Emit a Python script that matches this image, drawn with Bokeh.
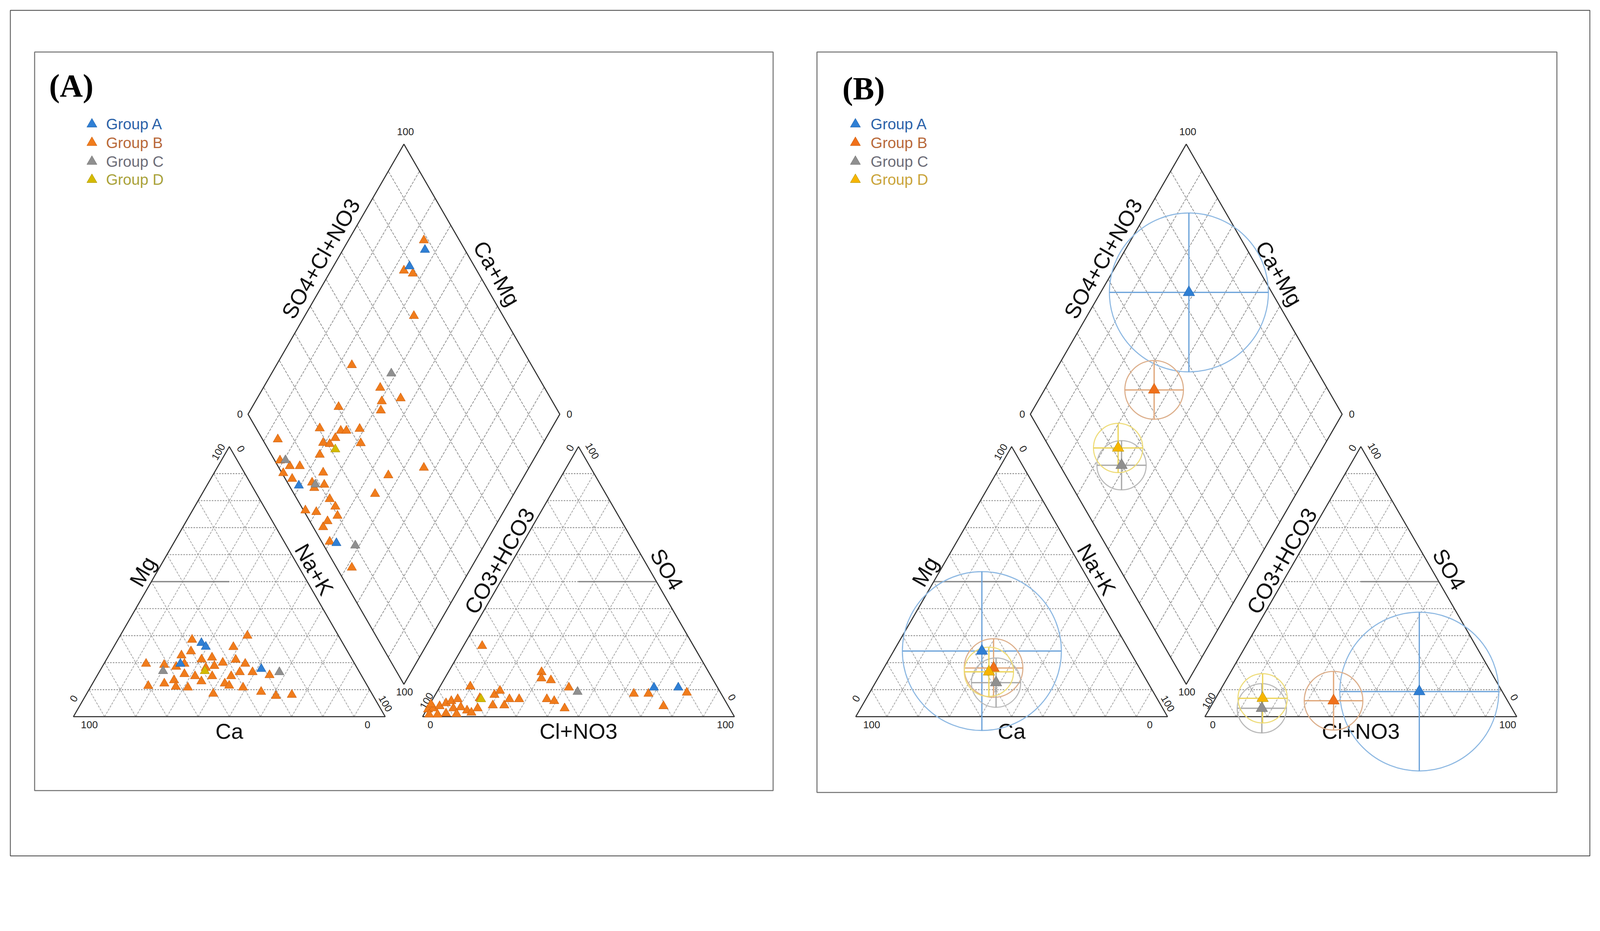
import math
from bokeh.plotting import figure
from bokeh.models import Range1d
from bokeh.core.properties import value
from bokeh.embed import file_html
from bokeh.resources import INLINE

# ---------------------------------------------------------------- data
groups = ["Group A", "Group B", "Group C", "Group D"]

# Panel (A): individual samples (% of meq/L)
# cation triangle rows: (Ca, Mg, Na+K)
samp_cation_A = [(45.3, 27.3, 27.4), (44.6, 25.9, 29.5), (55.9, 19.6, 24.5), (30.9, 17.7, 51.4)]
samp_cation_B = [
    (66.9, 19.6, 13.5), (70.3, 11.4, 18.3), (61.3, 19.2, 19.5), (64.7, 12.3, 23.0),
    (61.0, 13.5, 25.5), (57.8, 18.5, 23.7), (54.0, 22.7, 23.3), (56.5, 15.8, 27.7),
    (57.9, 10.8, 31.3), (47.7, 28.5, 23.8), (50.2, 24.2, 25.6), (48.3, 21.2, 30.5),
    (52.4, 13.1, 34.5), (48.5, 18.1, 33.4), (44.6, 21.9, 33.5), (48.0, 15.0, 37.0),
    (50.9, 8.5, 40.6), (45.4, 18.8, 35.8), (42.1, 20.0, 37.9), (45.3, 12.3, 42.4),
    (44.3, 11.5, 44.2), (35.8, 25.8, 38.4), (37.4, 21.1, 41.5), (38.4, 16.5, 45.1),
    (40.2, 10.8, 49.0), (35.1, 19.6, 45.3), (29.2, 30.0, 40.8), (34.3, 16.5, 49.2),
    (35.2, 9.2, 55.6), (29.4, 15.4, 55.2), (31.2, 7.7, 61.1), (25.9, 8.1, 66.0),
    (54.6, 19.6, 25.8), (53.5, 15.0, 31.5), (61.6, 11.1, 27.3), (41.9, 15.0, 43.1),
]
samp_cation_C = [(62.8, 16.9, 20.3), (25.7, 16.5, 57.8)]
samp_cation_D = [(49.4, 16.9, 33.7)]

# anion triangle rows: (CO3+HCO3, SO4, Cl+NO3)
samp_anion_A = [(20.4, 10.8, 68.8), (12.6, 10.8, 76.6)]
samp_anion_B = [
    (67.8, 26.2, 6.0), (79.1, 11.2, 9.7), (78.2, 6.9, 14.9), (80.8, 3.1, 16.1),
    (72.9, 8.1, 19.0), (70.4, 9.6, 20.0), (75.4, 4.2, 20.4), (71.7, 4.2, 24.1),
    (68.9, 6.5, 24.6), (65.8, 6.5, 27.7), (53.6, 16.5, 29.9), (54.8, 14.2, 31.0),
    (52.1, 13.5, 34.4), (56.9, 6.5, 36.6), (54.9, 5.8, 39.3), (52.9, 3.1, 44.0),
    (47.7, 10.8, 41.5), (28.0, 8.5, 63.5), (23.3, 8.5, 68.2), (20.8, 3.9, 75.3),
    (10.8, 8.9, 80.3),
    (96.9, 2.7, 0.4), (95.0, 3.1, 1.9), (92.6, 3.9, 3.5), (90.0, 5.0, 5.0),
    (87.9, 5.8, 6.3), (85.5, 6.5, 8.0), (88.6, 3.1, 8.3), (86.0, 3.5, 10.5),
    (84.6, 2.3, 13.1), (83.6, 1.5, 14.9), (97.5, 0.8, 1.7), (94.8, 0.8, 4.4),
    (91.9, 1.2, 6.9), (88.6, 1.0, 10.4), (95.0, 4.6, 0.4),
]
samp_anion_C = [(45.7, 9.2, 45.1)]
samp_anion_D = [(78.0, 6.5, 15.5)]

# diamond rows: (Ca+Mg, SO4+Cl+NO3)
samp_diamond_A = [(73.7, 87.2), (75.6, 79.2), (70.5, 3.1), (47.8, 4.5)]
samp_diamond_B = [
    (75.8, 88.6), (76.6, 76.6), (73.2, 78.9), (65.0, 71.4), (75.8, 42.4),
    (62.5, 47.3), (54.0, 51.9), (59.5, 45.3), (58.1, 43.3), (72.3, 30.4),
    (74.4, 20.4), (85.8, 4.9), (67.2, 26.7), (65.4, 28.5), (61.5, 33.1),
    (70.6, 18.8), (68.3, 20.7), (58.5, 30.8), (67.6, 23.6), (69.5, 15.5),
    (81.2, 1.7), (77.0, 3.8), (73.8, 7.0), (77.8, 0.4), (73.9, 2.2),
    (65.1, 13.3), (62.5, 11.4), (66.8, 7.9), (65.1, 7.6), (58.1, 10.5),
    (54.9, 10.9), (52.5, 9.9), (63.8, 0.6), (60.0, 3.8), (55.0, 3.2),
    (54.7, 5.7), (50.2, 2.6), (43.7, 33.7), (44.5, 26.0), (33.7, 46.5),
    (38.3, 4.9),
]
samp_diamond_C = [(61.6, 53.5), (79.5, 3.5), (65.4, 8.6), (41.3, 10.1)]
samp_diamond_D = [(65.5, 21.5)]

# Panel (B): group means (% of meq/L) and spread (% of axis length)
mean_Ca = [47.4, 46.8, 48.7, 49.0]
mean_Mg = [24.3, 18.0, 12.6, 16.6]
mean_NaK = [28.3, 35.2, 38.7, 34.4]
mean_CO3HCO3 = [26.6, 55.8, 80.2, 78.1]
mean_SO4 = [9.3, 5.9, 3.1, 6.8]
mean_ClNO3 = [64.1, 38.3, 16.7, 15.1]
mean_spread = [25.5, 9.4, 7.9, 7.9]

# ---------------------------------------------------------------- geometry / styles
K = 1.0775                     # screenshot px per figure px
SQ = math.sqrt(3) / 2
GAP = 0.12
SCALE = 860.0 / K              # figure px per unit side
FIG_W, FIG_H = 4096, 2208
X0 = -(202 / K) / SCALE
Y1 = (1976 / K) / SCALE
PANEL_B_DX = 2158 / 860.0


def fs(v):
    return "%.1fpx" % (v / K)


def lw(v):
    return v / K


SANS = value("Liberation Sans")
SERIF = value("Liberation Serif")

COL_PT = ["#2f7fd4", "#f07c1c", "#8f8f8f", "#d4ba00"]
COL_PT_B = ["#2f7fd4", "#f0701a", "#8f8f8f", "#f7b500"]
COL_EDGE = ["#1d5fa8", "#c95a08", "#6f6f6f", "#a99000"]
COL_TXT_A = ["#2c62a8", "#b8693a", "#6d6d78", "#a9a23a"]
COL_TXT_B = ["#2c62a8", "#b8693a", "#6d6d78", "#c9a43a"]
COL_RING = ["#8db8e2", "#dcae8a", "#b9b9b9", "#eedc7a"]
COL_CROSS = ["#6ea4da", "#e0a77a", "#a8a8a8", "#ecd45a"]


def px(x):
    return X0 + (x / K) / SCALE


def py(y):
    return Y1 - (y / K) / SCALE


def cation_xy(rows, ox):
    xs, ys = [], []
    for ca, mg, nak in rows:
        t = ca + mg + nak
        m, n = mg / t, nak / t
        xs.append(ox + n + m / 2)
        ys.append(m * SQ)
    return xs, ys


def anion_xy(rows, ox):
    xs, ys = [], []
    for co3, so4, cl in rows:
        t = co3 + so4 + cl
        s, c = so4 / t, cl / t
        xs.append(ox + 1 + GAP + c + s / 2)
        ys.append(s * SQ)
    return xs, ys


def diamond_xy(rows, ox):
    bx, by = ox + 1 + GAP / 2, GAP * SQ
    xs, ys = [], []
    for camg, so4cl in rows:
        a, b = camg / 100, so4cl / 100
        xs.append(bx + 0.5 * (b - a))
        ys.append(by + SQ * (a + b))
    return xs, ys


p = figure(width=FIG_W, height=FIG_H, output_backend="svg", toolbar_location=None,
           x_range=Range1d(X0, X0 + FIG_W / SCALE), y_range=Range1d(Y1 - FIG_H / SCALE, Y1),
           x_axis_location=None, y_axis_location=None, min_border=0)
p.grid.visible = False
p.outline_line_color = None
p.background_fill_color = "white"

# outer frame and panel boxes
p.quad(left=[px(28)], right=[px(4385)], top=[py(28)], bottom=[py(2360)],
       fill_color=None, line_color="#3c3c3c", line_width=lw(2))
p.quad(left=[px(95), px(2253)], right=[px(2132), px(4294)], top=[py(143), py(143)],
       bottom=[py(2180), py(2185)], fill_color=None, line_color="#7a7a7a", line_width=lw(3))

ticks = [k / 10 for k in range(1, 10)]


def draw_piper(ox):
    ax = ox + 1 + GAP
    bx, by = ox + 1 + GAP / 2, GAP * SQ
    # horizontal grid lines of both triangles
    hx0, hx1, hy = [], [], []
    for o in (ox, ax):
        for k in ticks:
            hx0.append(o + k / 2); hx1.append(o + 1 - k / 2); hy.append(k * SQ)
    p.segment(x0=hx0, y0=hy, x1=hx1, y1=hy, line_color="#959595", line_width=lw(2.5), line_dash="4 3")
    # diagonal grid lines of both triangles
    dx0, dy0, dx1, dy1 = [], [], [], []
    for o in (ox, ax):
        for k in ticks:
            dx0.append(o + k); dy0.append(0); dx1.append(o + (1 + k) / 2); dy1.append((1 - k) * SQ)
            dx0.append(o + 1 - k); dy0.append(0); dx1.append(o + (1 - k) / 2); dy1.append((1 - k) * SQ)
    p.segment(x0=dx0, y0=dy0, x1=dx1, y1=dy1, line_color="#a4a4a4", line_width=lw(2), line_dash="6 3")
    # diamond grid
    gx0, gy0, gx1, gy1 = [], [], [], []
    for k in ticks:
        gx0.append(bx - k / 2); gy0.append(by + k * SQ); gx1.append(bx - k / 2 + 0.5); gy1.append(by + k * SQ + SQ)
        gx0.append(bx + k / 2); gy0.append(by + k * SQ); gx1.append(bx + k / 2 - 0.5); gy1.append(by + k * SQ + SQ)
    p.segment(x0=gx0, y0=gy0, x1=gx1, y1=gy1, line_color="#8e8e8e", line_width=lw(2), line_dash="7 3")
    # darker 50 % segments
    p.segment(x0=[ox + 0.25, ax + 0.5], y0=[0.5 * SQ, 0.5 * SQ], x1=[ox + 0.5, ax + 0.75], y1=[0.5 * SQ, 0.5 * SQ],
              line_color="#8a8a8a", line_width=lw(4))
    # outlines
    p.patches(xs=[[ox, ox + 1, ox + 0.5], [ax, ax + 1, ax + 0.5],
                  [bx, bx - 0.5, bx, bx + 0.5]],
              ys=[[0, 0, SQ], [0, 0, SQ], [by, by + SQ, by + 2 * SQ, by + SQ]],
              fill_color=None, line_color="#333333", line_width=lw(3))
    # axis titles
    p.text(x=[ox + 0.5, ax + 0.5], y=[-0.047, -0.047], text=["Ca", "Cl+NO3"],
           text_font=SANS, text_font_size=fs(60), text_align="center", text_baseline="middle",
           text_color="#111111")
    p.text(x=[ox + 0.223, ax + 0.247, ox + 0.794],
           y=[0.465, 0.499, 1.4686], text=["Mg", "CO3+HCO3", "SO4+Cl+NO3"], angle=math.pi / 3,
           text_font=SANS, text_font_size=fs(60), text_align="center", text_baseline="middle",
           text_color="#111111")
    p.text(x=[ox + 0.772, ax + 0.783, ox + 1.357],
           y=[0.472, 0.472, 1.421], text=["Na+K", "SO4", "Ca+Mg"], angle=-math.pi / 3,
           text_font=SANS, text_font_size=fs(60), text_align="center", text_baseline="middle",
           text_color="#111111")
    # tick labels (0 / 100)
    p.text(x=[ox + 0.051, ox + 0.943, ax + 0.025, ax + 0.971, bx + 0.005, bx - 0.526, bx + 0.531, bx + 0.002],
           y=[-0.026, -0.026, -0.026, -0.026, by + 2 * SQ + 0.04, by + SQ, by + SQ, by - 0.024],
           text=["100", "0", "0", "100", "100", "0", "0", "100"],
           text_font=SANS, text_font_size=fs(28), text_align="center", text_baseline="middle",
           text_color="#222222")
    p.text(x=[ox + 0.001, ox + 0.465, ax + 0.0126, ax + 0.473],
           y=[0.058, 0.849, 0.051, 0.862], text=["0", "100", "100", "0"], angle=math.pi / 3,
           text_font=SANS, text_font_size=fs(28), text_align="center", text_baseline="middle",
           text_color="#222222")
    p.text(x=[ox + 0.537, ox + 1.001, ax + 0.544, ax + 0.992],
           y=[0.859, 0.042, 0.852, 0.062], text=["0", "100", "100", "0"], angle=-math.pi / 3,
           text_font=SANS, text_font_size=fs(28), text_align="center", text_baseline="middle",
           text_color="#222222")


draw_piper(0.0)
draw_piper(PANEL_B_DX)

# ---------------- panel (A) samples
samp_cation = [samp_cation_A, samp_cation_B, samp_cation_C, samp_cation_D]
samp_anion = [samp_anion_A, samp_anion_B, samp_anion_C, samp_anion_D]
samp_diamond = [samp_diamond_A, samp_diamond_B, samp_diamond_C, samp_diamond_D]
for gi in [1, 0, 2, 3]:
    xs, ys = [], []
    for fx, rows in ((cation_xy, samp_cation[gi]), (anion_xy, samp_anion[gi]), (diamond_xy, samp_diamond[gi])):
        a, b = fx(rows, 0.0)
        xs += a; ys += b
    p.scatter(x=xs, y=ys, marker="triangle", size=26 / K, fill_color=COL_PT[gi],
              line_color=COL_EDGE[gi], line_width=lw(1))

# ---------------- panel (B) group means with spread circles
ox = PANEL_B_DX
cat_rows = list(zip(mean_Ca, mean_Mg, mean_NaK))
an_rows = list(zip(mean_CO3HCO3, mean_SO4, mean_ClNO3))
dia_rows = [(ca + mg, so4 + cl) for ca, mg, so4, cl in zip(mean_Ca, mean_Mg, mean_SO4, mean_ClNO3)]
cxs, cys = cation_xy(cat_rows, ox)
axs, ays = anion_xy(an_rows, ox)
dxs, dys = diamond_xy(dia_rows, ox)
for gi in range(4):
    r = mean_spread[gi] / 100
    xs = [cxs[gi], axs[gi], dxs[gi]]
    ys = [cys[gi], ays[gi], dys[gi]]
    p.circle(x=xs, y=ys, radius=r, fill_color=None, line_color=COL_RING[gi], line_width=lw(3))
    p.segment(x0=[x - r for x in xs], y0=ys, x1=[x + r for x in xs], y1=ys,
              line_color=COL_CROSS[gi], line_width=lw(3.5))
    p.segment(x0=xs, y0=[y - r for y in ys], x1=xs, y1=[y + r for y in ys],
              line_color=COL_CROSS[gi], line_width=lw(3.5))
for gi in range(4):
    xs = [cxs[gi], axs[gi], dxs[gi]]
    ys = [cys[gi], ays[gi], dys[gi]]
    p.scatter(x=xs, y=ys, marker="triangle", size=32 / K, fill_color=COL_PT_B[gi],
              line_color=COL_EDGE[gi], line_width=lw(1))

# ---------------- legends and panel letters
leg_y = [py(342), py(393), py(445), py(495)]
for lx, tx, cols, tcols in ((px(253), px(292), COL_PT, COL_TXT_A), (px(2359), px(2401), COL_PT_B, COL_TXT_B)):
    p.scatter(x=[lx] * 4, y=leg_y, marker="triangle", size=28 / K, fill_color=cols,
              line_color=COL_EDGE, line_width=lw(1))
    p.text(x=[tx] * 4, y=leg_y, text=groups, text_color=tcols, text_font=SANS,
           text_font_size=fs(42), text_align="left", text_baseline="middle")

p.text(x=[px(135), px(2323)], y=[py(236), py(243)], text=["(A)", "(B)"], text_font=SERIF,
       text_font_size=fs(88), text_font_style="bold", text_align="left", text_baseline="middle",
       text_color="#000000")

open("out.html", "w").write(file_html(p, INLINE))
